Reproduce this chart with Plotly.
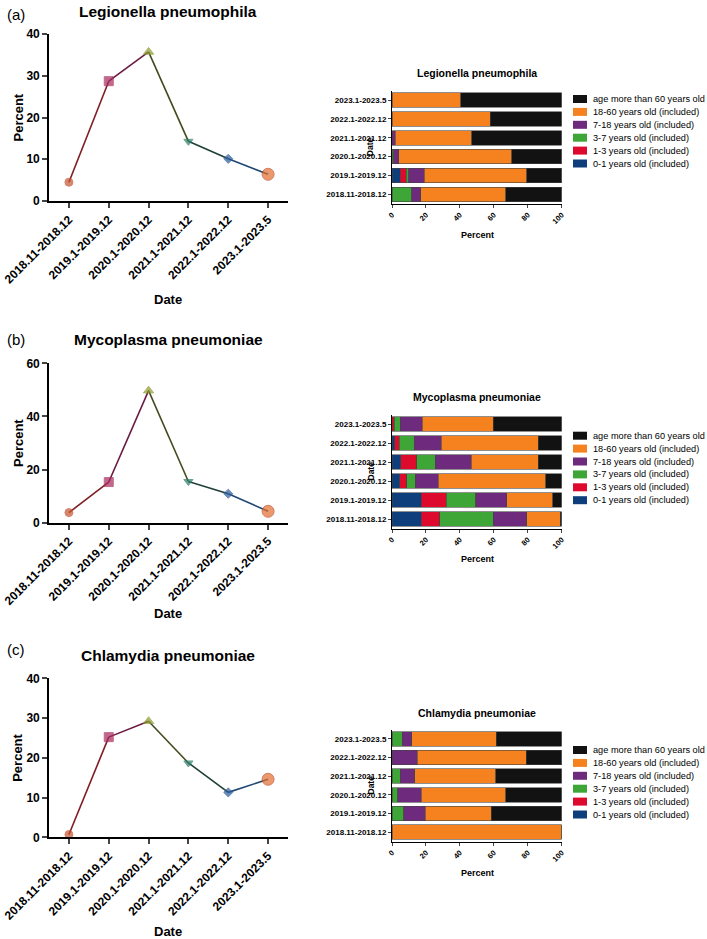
import plotly.graph_objects as go

# ---------------- data ----------------
categories = ["2018.11-2018.12", "2019.1-2019.12", "2020.1-2020.12",
              "2021.1-2021.12", "2022.1-2022.12", "2023.1-2023.5"]

legionella_pct = [4.5, 28.7, 35.7, 14.3, 10.1, 6.4]
mycoplasma_pct = [3.8, 15.3, 49.7, 15.5, 10.9, 4.3]
chlamydia_pct = [0.7, 25.2, 29.2, 18.7, 11.3, 14.6]

age_groups = ["0-1 years old (included)", "1-3 years old (included)",
              "3-7 years old (included)", "7-18 years old (included)",
              "18-60 years old (included)", "age more than 60 years old"]

# share of each age group per period (rows follow `categories`)
legionella_age = {
    "0-1 years old (included)":   [0, 4.9, 0, 0, 0, 0],
    "1-3 years old (included)":   [0, 3.4, 0, 0, 0, 0],
    "3-7 years old (included)":   [11.6, 1.7, 1.0, 0, 0, 0],
    "7-18 years old (included)":  [5.3, 8.9, 2.9, 2.0, 0, 0],
    "18-60 years old (included)": [50.0, 60.4, 66.8, 44.9, 57.9, 40.4],
    "age more than 60 years old": [33.1, 20.7, 29.3, 53.1, 42.1, 59.6],
}
mycoplasma_age = {
    "0-1 years old (included)":   [17.3, 17.3, 4.5, 5.1, 1.6, 0],
    "1-3 years old (included)":   [10.7, 14.8, 4.2, 9.5, 2.7, 1.4],
    "3-7 years old (included)":   [31.6, 17.3, 4.9, 11.0, 8.9, 3.5],
    "7-18 years old (included)":  [19.9, 18.3, 13.6, 21.1, 15.9, 13.0],
    "18-60 years old (included)": [19.7, 27.0, 63.4, 39.5, 57.1, 41.9],
    "age more than 60 years old": [0.8, 5.3, 9.4, 13.8, 13.8, 40.2],
}
chlamydia_age = {
    "0-1 years old (included)":   [0, 0, 0, 0, 0, 0],
    "1-3 years old (included)":   [0, 0, 0, 0, 0, 0],
    "3-7 years old (included)":   [0, 6.9, 3.3, 4.9, 0, 5.9],
    "7-18 years old (included)":  [0, 12.8, 13.8, 8.5, 14.8, 5.7],
    "18-60 years old (included)": [100, 38.8, 50.0, 47.8, 64.3, 49.8],
    "age more than 60 years old": [0, 41.5, 32.9, 38.8, 20.9, 38.6],
}

titles = ["Legionella pneumophila", "Mycoplasma pneumoniae", "Chlamydia pneumoniae"]
panel_labels = ["(a)", "(b)", "(c)"]
y_max = [40, 60, 40]
y_dtick = [10, 20, 10]

# ---------------- style ----------------
W, H = 707, 939
FONT = "Liberation Sans, Arial, Helvetica, sans-serif"
age_colors = {
    "0-1 years old (included)": "#0E3F7C",
    "1-3 years old (included)": "#DD0A2E",
    "3-7 years old (included)": "#3DA637",
    "7-18 years old (included)": "#6E2A7D",
    "18-60 years old (included)": "#F5821F",
    "age more than 60 years old": "#121212",
}
seg_colors = ["#7E1E24", "#6A1A42", "#404C1E", "#1F3F38", "#1F4873"]
mk_symbols = ["circle", "square", "triangle-up", "triangle-down", "diamond", "circle"]
mk_colors = ["#C4532E", "#A82A5C", "#8C9A2E", "#2A7E68", "#2B5C9C", "#E36F2E"]
mk_sizes = [8, 9, 9, 8, 7, 12]
mk_line = ["#C4532E", "#A82A5C", "#8C9A2E", "#2A7E68", "#2B5C9C", "#C0461E"]


def px(x):
    return x / W


def py(y):
    return 1 - y / H


left_x = (49, 288)
right_x = (392, 561.7)
left_y = [(34, 201), (363.3, 522.7), (678.3, 837.3)]
right_y = [(90.7, 203.7), (414.5, 528.5), (729.5, 841.5)]
title_left_y = [11, 339, 655]
label_y = [14, 339, 649]
date_left_y = [300, 613, 931]
right_title_y = [73, 397, 713]
legend_top = [99, 435.7, 750]
pct_right_y = [235, 559, 873]

fig = go.Figure()
layout = dict(
    template="none",
    width=W, height=H, margin=dict(l=0, r=0, t=0, b=0, pad=0),
    paper_bgcolor="white", plot_bgcolor="white",
    barmode="stack", bargap=0.23, showlegend=False,
    font=dict(family=FONT, color="black"),
)
annotations = []
shapes = []

datasets = [legionella_pct, mycoplasma_pct, chlamydia_pct]
agesets = [legionella_age, mycoplasma_age, chlamydia_age]


def note(text, x, y, size, bold=True, angle=0, xanchor="center"):
    return dict(text=text, x=px(x), y=py(y), xref="paper", yref="paper",
                xanchor=xanchor, yanchor="middle", showarrow=False, textangle=angle,
                font=dict(size=size, weight="bold" if bold else "normal", family=FONT))


for p in range(3):
    li = 2 * p + 1
    ri = 2 * p + 2
    lx = "x" if li == 1 else f"x{li}"
    ly = "y" if li == 1 else f"y{li}"
    rx = f"x{ri}"
    ry = f"y{ri}"
    vals = datasets[p]

    # line segments with different colours
    for s in range(len(categories) - 1):
        fig.add_trace(go.Scatter(
            x=categories[s:s + 2], y=vals[s:s + 2], mode="lines",
            line=dict(color=seg_colors[s], width=1.6),
            xaxis=lx, yaxis=ly, cliponaxis=False, hoverinfo="skip"))
    fig.add_trace(go.Scatter(
        x=categories, y=vals, mode="markers",
        marker=dict(symbol=mk_symbols, color=mk_colors, size=mk_sizes,
                    line=dict(color=mk_line, width=1)),
        xaxis=lx, yaxis=ly, cliponaxis=False))

    # stacked bars
    for g in age_groups:
        fig.add_trace(go.Bar(
            y=categories, x=agesets[p][g], orientation="h", name=g,
            marker=dict(color=age_colors[g], line=dict(color="#444444", width=0.6)),
            xaxis=rx, yaxis=ry))

    ykey_l = "yaxis" if li == 1 else f"yaxis{li}"
    xkey_l = "xaxis" if li == 1 else f"xaxis{li}"
    layout[xkey_l] = dict(
        domain=[px(left_x[0]), px(left_x[1])], anchor=ly, type="category",
        range=[-0.5, 5.5], showline=True, linecolor="black", linewidth=1.6,
        ticks="outside", ticklen=5, tickwidth=1.6, tickangle=-45, automargin=False,
        tickfont=dict(size=12, weight="bold", family=FONT),
        showgrid=False, zeroline=False)
    layout[ykey_l] = dict(
        domain=[py(left_y[p][1]), py(left_y[p][0])], anchor=lx,
        range=[0, y_max[p]], dtick=y_dtick[p], showline=True, linecolor="black",
        linewidth=1.6, ticks="outside", ticklen=5, tickwidth=1.6, automargin=False,
        tickfont=dict(size=12, weight="bold", family=FONT),
        showgrid=False, zeroline=False)
    layout[f"xaxis{ri}"] = dict(
        domain=[px(right_x[0]), px(right_x[1])], anchor=ry,
        range=[0, 100], dtick=20, showline=True, linecolor="black", linewidth=1,
        ticks="outside", ticklen=3, tickwidth=1, tickangle=-45, automargin=False,
        tickfont=dict(size=7.5, weight="bold", family=FONT),
        showgrid=False, zeroline=False)
    layout[f"yaxis{ri}"] = dict(
        domain=[py(right_y[p][1]), py(right_y[p][0])], anchor=rx, type="category",
        range=[-0.5, 5.5], showline=True, linecolor="black", linewidth=1,
        ticks="outside", ticklen=3, tickwidth=1, automargin=False,
        tickfont=dict(size=8, weight="bold", family=FONT),
        showgrid=False, zeroline=False)

    # texts
    annotations += [
        note(titles[p], 168, title_left_y[p], 15.5),
        note(panel_labels[p], 16, label_y[p], 15, bold=False),
        note("Percent", 18, (left_y[p][0] + left_y[p][1]) / 2, 13, angle=-90),
        note("Date", 168, date_left_y[p], 13),
        note(titles[p], 477, right_title_y[p], 10.5),
        note("Date", 370, (right_y[p][0] + right_y[p][1]) / 2, 8.5, angle=-90),
        note("Percent", 477, pct_right_y[p], 9),
    ]

    # legend (drawn as swatches + labels)
    for k, g in enumerate(reversed(age_groups)):
        yc = legend_top[p] + k * 12.9
        shapes.append(dict(type="rect", xref="paper", yref="paper",
                           x0=px(573), x1=px(587), y0=py(yc + 4), y1=py(yc - 4),
                           fillcolor=age_colors[g], line=dict(width=0)))
        annotations.append(note(g, 591, yc, 9.2, bold=False, xanchor="left"))

layout["annotations"] = annotations
layout["shapes"] = shapes
fig.update_layout(**layout)
fig.write_html(
    "out.html",
    config={"displayModeBar": False},
    post_script="document.body.style.margin='0';document.body.style.overflow='hidden';",
)
